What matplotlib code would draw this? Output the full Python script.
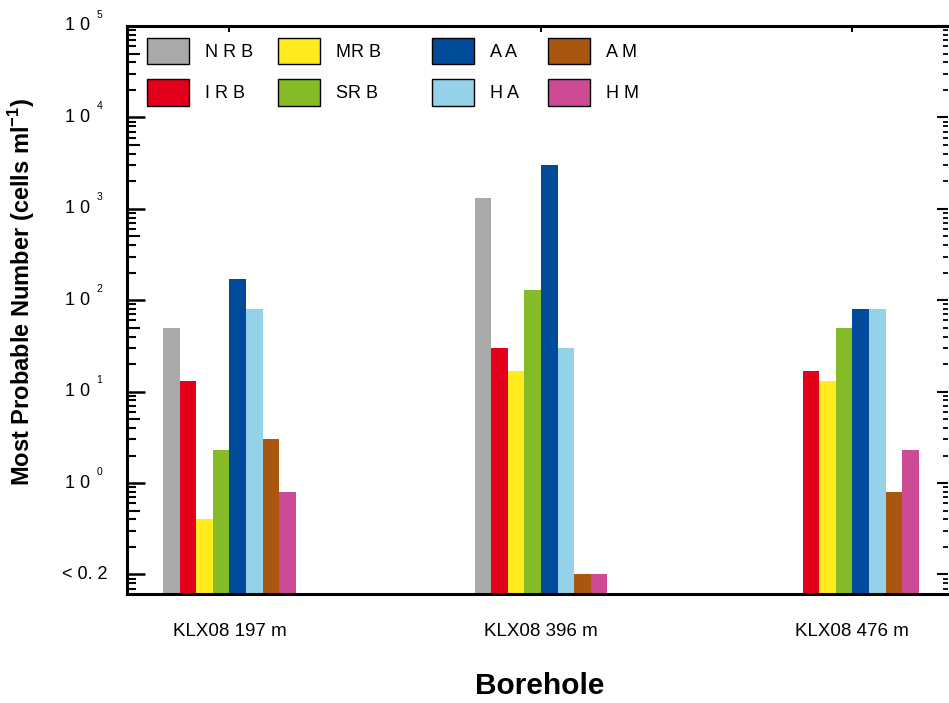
import numpy as np
import matplotlib
matplotlib.use("Agg")
import matplotlib.pyplot as plt
from matplotlib import font_manager
from matplotlib.ticker import LogLocator, NullFormatter, FixedLocator
from matplotlib.transforms import offset_copy

# ---------------- data ----------------
categories = ["KLX08 197 m", "KLX08 396 m", "KLX08 476 m"]
series_names = ["N R B", "I R B", "MR B", "SR B", "A A", "H A", "A M", "H M"]
# values in cells/ml ; 0.1 = plotted at the "< 0.2" (below detection) level
NRB = [50, 1300, np.nan]
IRB = [13, 30, 17]
MRB = [0.4, 17, 13]
SRB = [2.3, 130, 50]
AA = [170, 3000, 80]
HA = [80, 30, 80]
AM = [3, 0.1, 0.8]
HM = [0.8, 0.1, 2.3]
series_values = [NRB, IRB, MRB, SRB, AA, HA, AM, HM]
colors = ["#A9A9A9", "#E2001A", "#FFEB1E", "#84BB26",
          "#004C9B", "#93D2E8", "#A95710", "#CD4B94"]
decade_ticks = [1e0, 1e1, 1e2, 1e3, 1e4, 1e5]
decade_exps = ["0", "1", "2", "3", "4", "5"]
detect_tick = 0.1
detect_label = "< 0. 2"

# ---------------- fonts ----------------
names = {f.name for f in font_manager.fontManager.ttflist}
base = "Liberation Sans" if "Liberation Sans" in names else "DejaVu Sans"
plt.rcParams["font.family"] = [base, "DejaVu Sans"]
plt.rcParams["mathtext.fontset"] = "custom"
plt.rcParams["mathtext.rm"] = base
plt.rcParams["mathtext.bf"] = base + ":bold"

W, H = 949, 703
fig = plt.figure(figsize=(W / 100, H / 100), dpi=100)
L, R, T, B = 127, 948, 26, 594
ax = fig.add_axes([L / W, 1 - B / H, (R - L) / W, (B - T) / H])

x = np.arange(len(categories))
w = 0.0533
n = len(series_values)
bars = []
for i, (vals, c, name) in enumerate(zip(series_values, colors, series_names)):
    b = ax.bar(x + (i - (n - 1) / 2) * w, vals, width=w, color=c,
               linewidth=0, label=name)
    bars.append(b)

ax.set_yscale("log")
ax.set_ylim(10 ** (-1.214), 1e5)
ax.set_xlim(-0.329, 2.307)

# left y ticks
ax.yaxis.set_major_locator(FixedLocator([detect_tick] + decade_ticks))
ax.yaxis.set_minor_locator(LogLocator(base=10, subs=[2, 3, 4, 6, 7, 8, 9], numticks=20))
ax.yaxis.set_minor_formatter(NullFormatter())
ax.tick_params(axis="y", which="major", direction="in", length=13, width=1.8,
               left=True, right=False, labelleft=False)
ax.tick_params(axis="y", which="minor", direction="in", length=6.5, width=1.5,
               left=True, right=False)
sec = ax.secondary_yaxis("left")
sec.set_yticks([0.5, 5, 50, 500, 5000, 50000])
sec.yaxis.set_minor_locator(FixedLocator([]))
sec.tick_params(axis="y", which="major", direction="in", length=9, width=1.5, labelleft=False)
sec.spines["left"].set_visible(False)

# right y ticks
secr = ax.secondary_yaxis("right")
secr.yaxis.set_major_locator(FixedLocator([detect_tick] + decade_ticks))
secr.yaxis.set_minor_locator(LogLocator(base=10, subs=[2, 3, 4, 5, 6, 7, 8, 9], numticks=20))
secr.yaxis.set_minor_formatter(NullFormatter())
secr.tick_params(axis="y", which="major", direction="in", length=8, width=1.5, labelright=False)
secr.tick_params(axis="y", which="minor", direction="in", length=3.5, width=1.3)
secr.spines["right"].set_visible(False)

# y tick labels
ytr = ax.get_yaxis_transform()
exp_tr = offset_copy(ytr, fig=fig, x=0, y=11.5, units="dots")
def axfrac(px):
    return (px - L) / (R - L)
for v, e in zip(decade_ticks, decade_exps):
    ax.text(axfrac(90), v, "1 0", transform=ytr, ha="right", va="center",
            fontsize=13, color="black")
    ax.text(axfrac(96.5), v, e, transform=exp_tr, ha="left", va="center",
            fontsize=7.5, color="black")
ax.text(axfrac(108), detect_tick, detect_label, transform=ytr, ha="right",
        va="center", fontsize=13, color="black")

# x ticks
ax.set_xticks(x)
ax.set_xticklabels(categories, fontsize=13.5)
ax.tick_params(axis="x", which="both", direction="in", bottom=False, top=True,
               length=4, width=1.4, pad=21)

for s in ["left", "bottom", "top"]:
    ax.spines[s].set_linewidth(2.2)
ax.spines["right"].set_visible(False)

fig.text(22 / W, 1 - 292 / H, r"Most Probable Number (cells ml$^{\mathbf{-1}}$)",
         rotation=90, ha="center", va="center", fontsize=17, fontweight="bold")
fig.text(540 / W, 1 - 686 / H, "Borehole", ha="center", va="center",
         fontsize=21.5, fontweight="bold")

# legend: four columns of two entries each
col_x = [147, 278, 432, 548]
legs = []
for j, px in enumerate(col_x):
    hs = [bars[2 * j], bars[2 * j + 1]]
    lb = [series_names[2 * j], series_names[2 * j + 1]]
    leg = ax.legend(hs, lb, loc="upper left", bbox_to_anchor=(px / W, 1 - 38 / H),
                    bbox_transform=fig.transFigure, frameon=False, fontsize=13,
                    handlelength=2.33, handleheight=1.85, handletextpad=0.9,
                    labelspacing=0.85, borderpad=0, borderaxespad=0)
    for p in leg.get_patches():
        p.set_edgecolor("black")
        p.set_linewidth(1.0)
    legs.append(leg)
for leg in legs[:-1]:
    ax.add_artist(leg)

fig.savefig("out.png", dpi=100)
